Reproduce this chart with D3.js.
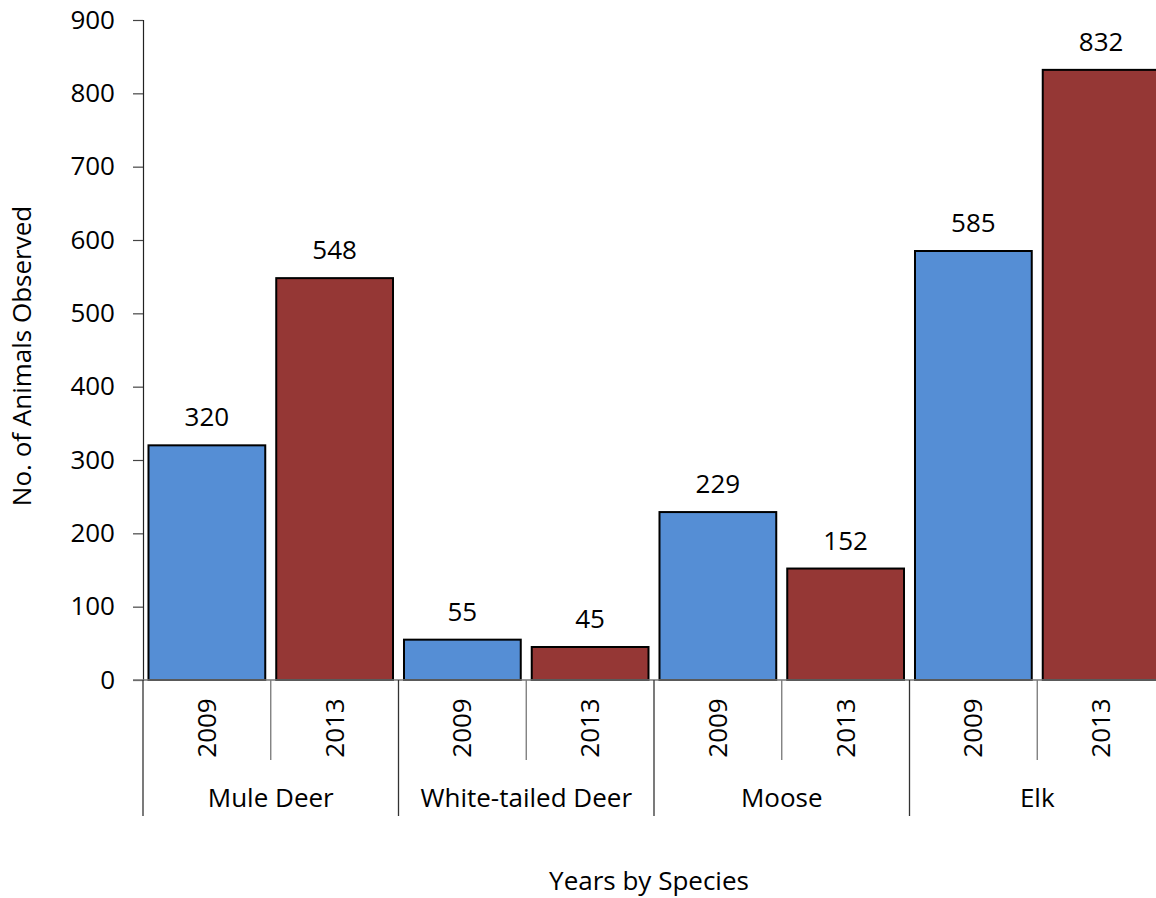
<!DOCTYPE html>
<html>
<head>
<meta charset="utf-8">
<script src="https://d3js.org/d3.v7.min.js"></script>
<style>
  body { margin: 0; background: #fff; }
  text { font-family: "Open Sans", sans-serif; fill: #000; }
</style>
</head>
<body>
<svg id="chart" width="1156" height="898"></svg>
<script>
// data
const species = ["Mule Deer", "White-tailed Deer", "Moose", "Elk"];
const years = ["2009", "2013"];
const counts2009 = [320, 55, 229, 585];
const counts2013 = [548, 45, 152, 832];
const yTicks = [0, 100, 200, 300, 400, 500, 600, 700, 800, 900];
const colors = {"2009": "#558ed5", "2013": "#953735"};

// flatten to one row per bar
let rows = [];
species.forEach((s, i) => {
  rows.push({species: s, year: "2009", value: counts2009[i], key: s + "|2009"});
  rows.push({species: s, year: "2013", value: counts2013[i], key: s + "|2013"});
});

const svg = d3.select("#chart");
const plotLeft = 143, plotRight = 1165, plotTop = 20, plotBottom = 680;
const fs = "26px";

let x = d3.scaleBand()
    .domain(rows.map(d => d.key))
    .range([plotLeft, plotRight])
    .paddingInner(0.086)
    .paddingOuter(0.043);

let y = d3.scaleLinear().domain([0, 900]).range([plotBottom, plotTop]);

// y axis
let yAxis = svg.append("g")
    .attr("transform", `translate(${plotLeft},0)`)
    .call(d3.axisLeft(y).tickValues(yTicks).tickSize(10).tickPadding(18));
yAxis.select(".domain").attr("stroke", "#222").attr("stroke-width", 1.2);
yAxis.selectAll(".tick line").attr("stroke", "#444").attr("stroke-width", 1.2);
yAxis.selectAll(".tick text")
    .style("font-size", fs)
    .style("font-family", "'Open Sans', sans-serif")
    .attr("fill", "#000");

// bars
svg.selectAll("rect.bar")
    .data(rows)
    .enter()
    .append("rect")
    .attr("class", "bar")
    .attr("x", d => x(d.key))
    .attr("y", d => y(d.value))
    .attr("width", x.bandwidth())
    .attr("height", d => plotBottom - y(d.value))
    .attr("fill", d => colors[d.year])
    .attr("stroke", "#000")
    .attr("stroke-width", 2);

// value labels
svg.selectAll("text.val")
    .data(rows)
    .enter()
    .append("text")
    .attr("class", "val")
    .attr("x", d => x(d.key) + x.bandwidth() / 2)
    .attr("y", d => y(d.value) - 19)
    .attr("text-anchor", "middle")
    .style("font-size", fs)
    .text(d => d.value);

// baseline
svg.append("line")
    .attr("x1", plotLeft - 10).attr("x2", plotRight)
    .attr("y1", plotBottom).attr("y2", plotBottom)
    .attr("stroke", "#777").attr("stroke-width", 1.5);

// step of one band incl. padding
const step = x.step();
const start = plotLeft;

// separators: between years (short), between species (long)
d3.range(rows.length + 1).forEach(i => {
  let xx = start + i * step;
  let long = i % 2 == 0;
  svg.append("line")
      .attr("x1", xx).attr("x2", xx)
      .attr("y1", plotBottom).attr("y2", long ? 816 : 760)
      .attr("stroke", long ? "#333" : "#777")
      .attr("stroke-width", 1.3);
});

// year labels rotated
svg.selectAll("text.year")
    .data(rows)
    .enter()
    .append("text")
    .attr("class", "year")
    .attr("transform", d => `translate(${x(d.key) + x.bandwidth() / 2 + 9},728) rotate(-90)`)
    .attr("text-anchor", "middle")
    .style("font-size", fs)
    .text(d => d.year);

// species labels
svg.selectAll("text.species")
    .data(species)
    .enter()
    .append("text")
    .attr("class", "species")
    .attr("x", (d, i) => start + (i * 2 + 1) * step)
    .attr("y", 807)
    .attr("text-anchor", "middle")
    .style("font-size", fs)
    .text(d => d);

// axis titles
svg.append("text")
    .attr("x", 649).attr("y", 890)
    .attr("text-anchor", "middle")
    .style("font-size", fs)
    .text("Years by Species");

svg.append("text")
    .attr("transform", "translate(31,356) rotate(-90)")
    .attr("text-anchor", "middle")
    .style("font-size", fs)
    .text("No. of Animals Observed");
</script>
</body>
</html>
